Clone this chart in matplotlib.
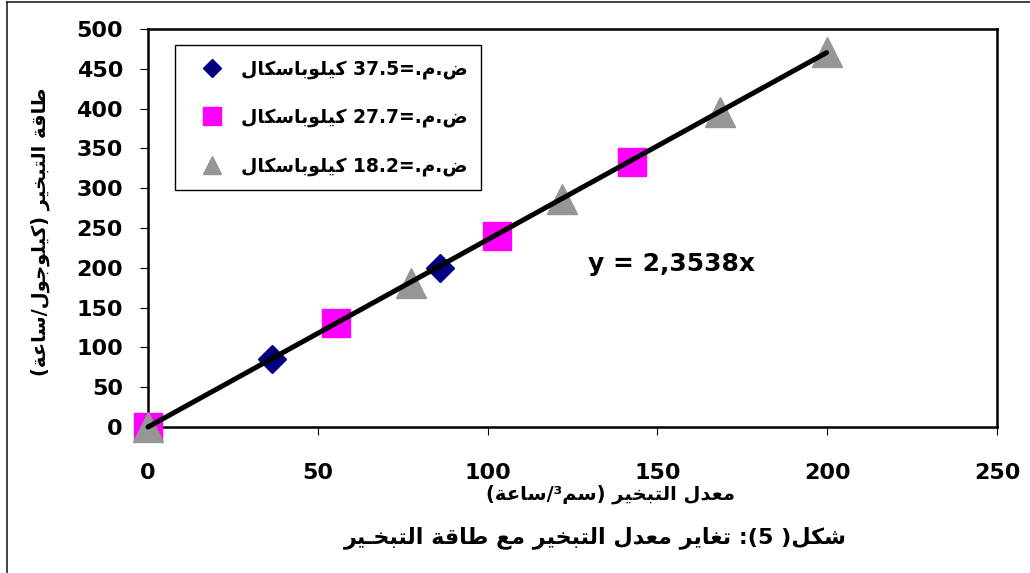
import re
import numpy as np
import matplotlib
matplotlib.use("Agg")
import matplotlib.pyplot as plt
from matplotlib.lines import Line2D

# ---------------- data ----------------
x_375 = [0, 36.6, 86.0]
y_375 = [0, 85.0, 200.0]
x_277 = [0, 55.3, 102.9, 142.6]
y_277 = [0, 130.5, 240.0, 333.0]
x_182 = [0, 77.4, 121.8, 168.4, 199.8]
y_182 = [0, 181.0, 287.0, 396.0, 471.5]
slope = 2.3538
x_ticks = [0, 50, 100, 150, 200, 250]
y_ticks = [0, 50, 100, 150, 200, 250, 300, 350, 400, 450, 500]
labels = ["ض.م.=37.5 كيلوباسكال", "ض.م.=27.7 كيلوباسكال", "ض.م.=18.2 كيلوباسكال"]
x_title = "معدل التبخير (سم³/ساعة)"
y_title = "طاقة التبخير (كيلوجول/ساعة)"
caption = "شكل( 5): تغاير معدل التبخير مع طاقة التبخـير"
equation = "y = 2,3538x"

# ------------- minimal Arabic shaping + RTL ordering -------------
FORMS = {  # isolated, final, initial, medial
    'ا': ('\uFE8D', '\uFE8E', None, None),
    'ب': ('\uFE8F', '\uFE90', '\uFE91', '\uFE92'),
    'ة': ('\uFE93', '\uFE94', None, None),
    'ت': ('\uFE95', '\uFE96', '\uFE97', '\uFE98'),
    'ج': ('\uFE9D', '\uFE9E', '\uFE9F', '\uFEA0'),
    'ح': ('\uFEA1', '\uFEA2', '\uFEA3', '\uFEA4'),
    'خ': ('\uFEA5', '\uFEA6', '\uFEA7', '\uFEA8'),
    'د': ('\uFEA9', '\uFEAA', None, None),
    'ر': ('\uFEAD', '\uFEAE', None, None),
    'س': ('\uFEB1', '\uFEB2', '\uFEB3', '\uFEB4'),
    'ش': ('\uFEB5', '\uFEB6', '\uFEB7', '\uFEB8'),
    'ض': ('\uFEBD', '\uFEBE', '\uFEBF', '\uFEC0'),
    'ط': ('\uFEC1', '\uFEC2', '\uFEC3', '\uFEC4'),
    'ع': ('\uFEC9', '\uFECA', '\uFECB', '\uFECC'),
    'غ': ('\uFECD', '\uFECE', '\uFECF', '\uFED0'),
    'ق': ('\uFED5', '\uFED6', '\uFED7', '\uFED8'),
    'ك': ('\uFED9', '\uFEDA', '\uFEDB', '\uFEDC'),
    'ل': ('\uFEDD', '\uFEDE', '\uFEDF', '\uFEE0'),
    'م': ('\uFEE1', '\uFEE2', '\uFEE3', '\uFEE4'),
    'ن': ('\uFEE5', '\uFEE6', '\uFEE7', '\uFEE8'),
    'و': ('\uFEED', '\uFEEE', None, None),
    'ي': ('\uFEF1', '\uFEF2', '\uFEF3', '\uFEF4'),
}
TATWEEL = '\u0640'
MIRROR = {'(': ')', ')': '('}


def _joins_next(c):
    return c == TATWEEL or (c in FORMS and FORMS[c][2] is not None)


def _is_ar(c):
    return c in FORMS or c == TATWEEL


def shape(s):
    out = []
    for i, c in enumerate(s):
        if c not in FORMS:
            out.append(c)
            continue
        prev = s[i - 1] if i > 0 else ''
        nxt = s[i + 1] if i + 1 < len(s) else ''
        cp = bool(prev) and _joins_next(prev)
        cn = _joins_next(c) and bool(nxt) and _is_ar(nxt)
        iso, fin, ini, med = FORMS[c]
        out.append(med if (cp and cn) else fin if cp else ini if cn else iso)
    return ''.join(out)


def rtl(s):
    s = shape(s)
    parts = re.split(r'([0-9A-Za-z\u00b2\u00b3]+(?:[.,][0-9]+)*)', s)
    out = []
    for k, p in enumerate(parts):
        if k % 2 == 1:
            out.append(p)
        else:
            out.append(''.join(MIRROR.get(c, c) for c in reversed(p)))
    return ''.join(reversed(out))


# ---------------- figure ----------------
plt.rcParams['font.family'] = ['DejaVu Sans']
plt.rcParams['font.weight'] = 'bold'

W, H = 1030, 573
fig = plt.figure(figsize=(W / 100, H / 100), dpi=100)
ax = fig.add_axes([148 / W, 1 - 427 / H, (997 - 148) / W, (427 - 29) / H])

ax.plot(x_375, y_375, linestyle='none', marker='D', markersize=14.5,
        color='#000080', markeredgecolor='#000080', label=rtl(labels[0]),
        zorder=3, clip_on=False)
ax.plot(x_277, y_277, linestyle='none', marker='s', markersize=20,
        color='#FF00FF', markeredgecolor='#FF00FF', label=rtl(labels[1]),
        zorder=3, clip_on=False)
ax.plot(x_182, y_182, linestyle='none', marker='^', markersize=21,
        color='#969696', markeredgecolor='#969696', label=rtl(labels[2]),
        zorder=3, clip_on=False)

xt = np.array([0, max(x_182)])
ax.plot(xt, slope * xt, color='black', linewidth=3.6, solid_capstyle='round',
        zorder=4, clip_on=False)

ax.set_xlim(0, 250)
ax.set_ylim(0, 500)
ax.set_xticks(x_ticks)
ax.set_yticks(y_ticks)
ax.tick_params(axis='both', direction='out', length=6, width=0.8, labelsize=16)
ax.tick_params(axis='x', pad=20)
ax.tick_params(axis='y', pad=12)
for sp in ax.spines.values():
    sp.set_linewidth(1.8)
    sp.set_color('black')
    sp.set_zorder(2.5)
for lab in ax.get_xticklabels() + ax.get_yticklabels():
    lab.set_fontweight('bold')

fig.text(671 / W, 1 - 264 / H, equation, fontsize=18, fontweight='bold',
         ha='center', va='center')

leg = ax.legend(loc='upper left', bbox_to_anchor=((175 - 148) / 849, (427 - 45) / 398),
                borderaxespad=0, frameon=True, fancybox=False,
                edgecolor='black', framealpha=1, borderpad=0.75, handlelength=2.4,
                handletextpad=0.35, labelspacing=1.55, markerscale=0.65,
                prop={'weight': 'bold', 'size': 13.5})
leg.get_frame().set_linewidth(1.0)
leg.set_zorder(5)

fig.text(610 / W, 1 - 494 / H, rtl(x_title), fontsize=14, fontweight='bold',
         ha='center', va='center')
fig.text(40 / W, 1 - 232 / H, rtl(y_title), fontsize=14, fontweight='bold',
         ha='center', va='center', rotation=90)
fig.text(595 / W, 1 - 538 / H, rtl(caption), fontsize=16, fontweight='bold',
         ha='center', va='center')

# outer frame lines (top and left)
fig.add_artist(Line2D([7 / W, 1], [1 - 2 / H, 1 - 2 / H], transform=fig.transFigure,
                      color='#222222', linewidth=1.2))
fig.add_artist(Line2D([7 / W, 7 / W], [0, 1 - 2 / H], transform=fig.transFigure,
                      color='#222222', linewidth=1.2))

fig.savefig('out.png', dpi=100)
